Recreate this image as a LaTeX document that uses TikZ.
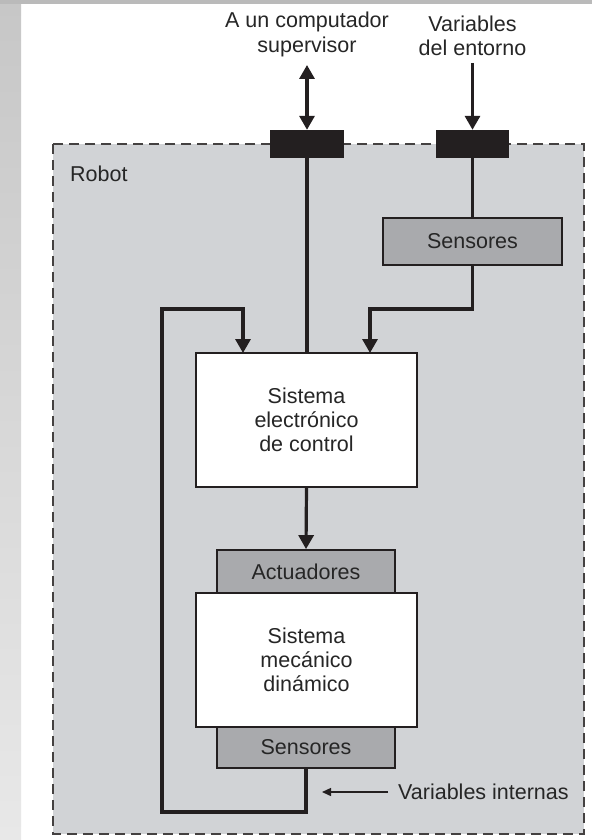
\documentclass[tikz,border=0pt]{standalone}
\usepackage{fontspec}
\setmainfont{Liberation Sans}
\usetikzlibrary{arrows.meta}
\definecolor{robotbg}{HTML}{D1D3D6}
\definecolor{sensgray}{HTML}{A9AAAD}
\definecolor{inkblack}{HTML}{231F20}
\definecolor{txtgray}{HTML}{262626}
\tikzset{
  lbl/.style={font=\fontsize{21.5}{24.5}\selectfont, text=txtgray, align=center, inner sep=0pt},
  whitebox/.style={draw=inkblack, line width=1.8pt, fill=white, inner sep=0pt, font=\fontsize{21.5}{24}\selectfont, text=txtgray, align=center},
  graybox/.style={draw=inkblack, line width=1.8pt, fill=sensgray, inner sep=0pt, font=\fontsize{21.5}{24}\selectfont, text=txtgray, align=center},
  port/.style={fill=inkblack, draw=none, inner sep=0pt, minimum height=28pt},
  wire/.style={draw=inkblack, line width=3.2pt},
  arr/.style={wire, -{Triangle[width=15pt,length=14pt]}},
  dblarr/.style={wire, {Triangle[width=15pt,length=14pt]}-{Triangle[width=15pt,length=14pt]}},
  thinarr/.style={draw=inkblack, line width=1.4pt, -{Triangle[width=8pt,length=9pt]}},
}
\begin{document}
\begin{tikzpicture}[x=1pt, y=-1pt]
\useasboundingbox (0,0) rectangle (592,840);
% page background and left margin strip
\fill[white] (0,0) rectangle (592,840);
\shade[top color=black!22, bottom color=black!9, draw=none] (0,0) rectangle (21,840);
\fill[black!27] (0,0) rectangle (592,4);

% robot enclosure
\draw[fill=robotbg, draw=inkblack!85, line width=1.8pt, dash pattern=on 10pt off 6pt] (53,144) rectangle (584,834);
\node[lbl, anchor=west] (robotlbl) at (70,174) {Robot};

% interface ports
\node[port, minimum width=74pt] (port1) at (307,144) {};
\node[port, minimum width=73pt] (port2) at (472.5,144) {};

% external labels
\node[lbl] (sup) at (307,34.5) {A un computador\\supervisor};
\node[lbl] (env) at (472.5,36) {Variables\\del entorno};

% blocks
\node[graybox, minimum width=179pt, minimum height=47pt] (senstop) at (472.5,241.5) {Sensores};
\node[whitebox, minimum width=221pt, minimum height=134pt] (ctrl) at (306.5,420) {Sistema\\electrónico\\de control};
\node[graybox, minimum width=178pt, minimum height=43pt] (act) at (306,571.5) {Actuadores};
\node[whitebox, minimum width=221pt, minimum height=134pt] (mech) at (306.5,660) {Sistema\\mecánico\\dinámico};
\node[graybox, minimum width=178pt, minimum height=41pt] (sensbot) at (306,747.5) {Sensores};
\node[lbl, anchor=west] (intvar) at (398,792) {Variables internas};

% routing points
\coordinate (fbA) at (306,812);
\coordinate (fbB) at (162,812);
\coordinate (fbC) at (162,309);
\coordinate (fbD) at (243,309);
\coordinate (stA) at (472.5,309);
\coordinate (stB) at (370,309);
\coordinate (ctrlL) at (243,353);
\coordinate (ctrlR) at (370,353);
\coordinate (ivEnd) at (322,792);

% connectors
\draw[dblarr] (307,65) -- (port1.north);
\draw[arr] (472.5,63) -- (port2.north);
\draw[wire] (port1.south) -- (ctrl.north -| port1.south);
\draw[wire] (port2.south) -- (senstop.north);
\draw[arr] (senstop.south) -- (stA) -- (stB) -- (ctrlR);
\draw[arr] (ctrl.south) -- (act.north);
\draw[arr, line join=miter] (sensbot.south) -- (fbA) -- (fbB) -- (fbC) -- (fbD) -- (ctrlL);
\draw[thinarr] (intvar.west) ++(-10,0) -- (ivEnd);
\end{tikzpicture}
\end{document}
